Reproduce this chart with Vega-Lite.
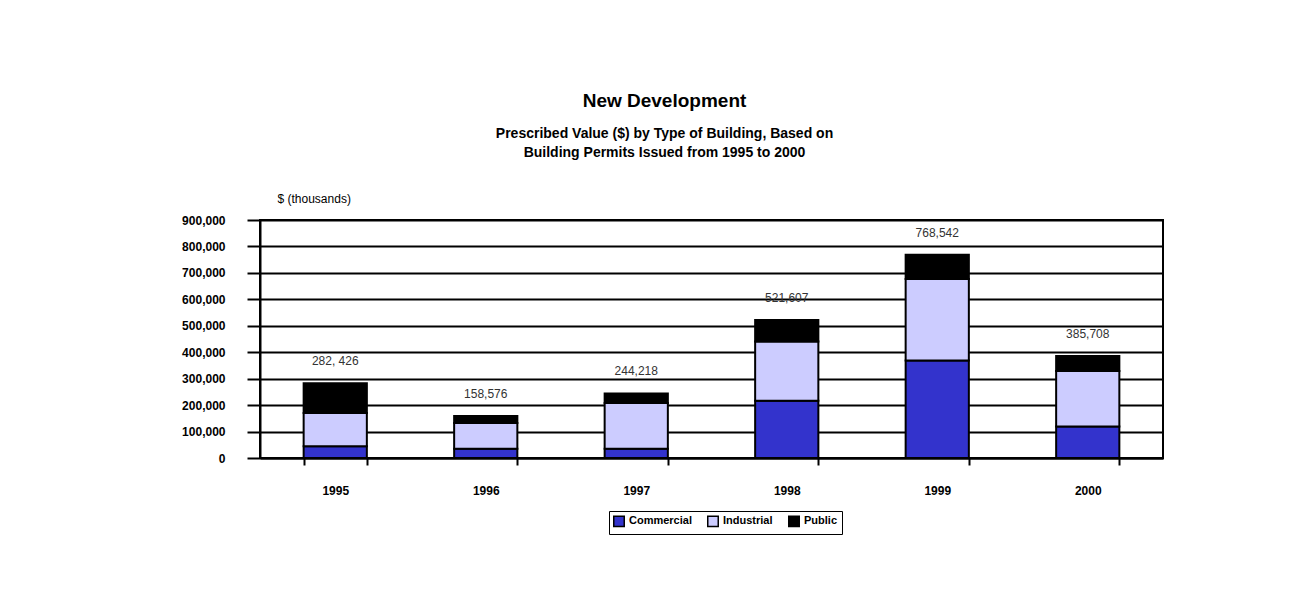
{
  "$schema": "https://vega.github.io/schema/vega-lite/v6.json",
  "width": 903,
  "height": 238,
  "autosize": {"type": "none"},
  "padding": {"left": 260, "top": 220, "right": 132, "bottom": 151},
  "background": "white",
  "config": {
    "font": "Liberation Sans",
    "view": {"stroke": "black", "strokeWidth": 2}
  },
  "title": {
    "text": "New Development",
    "subtitle": ["Prescribed Value ($) by Type of Building, Based on", "Building Permits Issued from 1995 to 2000"],
    "fontSize": 19,
    "fontWeight": "bold",
    "color": "black",
    "subtitleFontSize": 14,
    "subtitleFontWeight": "bold",
    "subtitleColor": "black",
    "subtitlePadding": 16,
    "subtitleLineHeight": 19,
    "anchor": "middle",
    "dx": -47,
    "offset": 32
  },
  "datasets": {
    "parts": [
      {"year": "1995", "type": "Commercial", "value": 44000},
      {"year": "1995", "type": "Industrial", "value": 126000},
      {"year": "1995", "type": "Public", "value": 112426},
      {"year": "1996", "type": "Commercial", "value": 35000},
      {"year": "1996", "type": "Industrial", "value": 97000},
      {"year": "1996", "type": "Public", "value": 26576},
      {"year": "1997", "type": "Commercial", "value": 35000},
      {"year": "1997", "type": "Industrial", "value": 173000},
      {"year": "1997", "type": "Public", "value": 36218},
      {"year": "1998", "type": "Commercial", "value": 216600},
      {"year": "1998", "type": "Industrial", "value": 224400},
      {"year": "1998", "type": "Public", "value": 80607},
      {"year": "1999", "type": "Commercial", "value": 369000},
      {"year": "1999", "type": "Industrial", "value": 308000},
      {"year": "1999", "type": "Public", "value": 91542},
      {"year": "2000", "type": "Commercial", "value": 119500},
      {"year": "2000", "type": "Industrial", "value": 209500},
      {"year": "2000", "type": "Public", "value": 56708}
    ],
    "totals": [
      {"year": "1995", "total": 282426, "label": "282, 426"},
      {"year": "1996", "total": 158576, "label": "158,576"},
      {"year": "1997", "total": 244218, "label": "244,218"},
      {"year": "1998", "total": 521607, "label": "521,607"},
      {"year": "1999", "total": 768542, "label": "768,542"},
      {"year": "2000", "total": 385708, "label": "385,708"}
    ]
  },
  "encoding": {
    "x": {
      "field": "year",
      "type": "nominal",
      "scale": {"paddingInner": 0.58, "paddingOuter": 0.29},
      "axis": {
        "title": null,
        "labelAngle": 0,
        "labelFontWeight": "bold",
        "labelFontSize": 12,
        "labelColor": "black",
        "labelPadding": 20,
        "tickBand": "extent",
        "tickSize": 7,
        "tickColor": "black",
        "tickWidth": 2,
        "domainColor": "black",
        "domainWidth": 2,
        "grid": false
      }
    },
    "y": {
      "type": "quantitative",
      "scale": {"domain": [0, 900000]},
      "axis": {
        "values": [0, 100000, 200000, 300000, 400000, 500000, 600000, 700000, 800000, 900000],
        "format": ",.0f",
        "title": "$ (thousands)",
        "titleAngle": 0,
        "titleX": 17,
        "titleY": -22,
        "titleAlign": "left",
        "titleBaseline": "middle",
        "titleFontWeight": "normal",
        "titleFontSize": 12,
        "titleColor": "black",
        "labelFontWeight": "bold",
        "labelFontSize": 12,
        "labelColor": "black",
        "labelPadding": 22,
        "tickSize": 13,
        "tickColor": "black",
        "tickWidth": 2,
        "domainColor": "black",
        "domainWidth": 2,
        "grid": true,
        "gridColor": "black",
        "gridWidth": 2,
        "gridOpacity": 1
      }
    }
  },
  "layer": [
    {
      "data": {"name": "parts"},
      "mark": {"type": "bar", "stroke": "black", "strokeWidth": 2},
      "encoding": {
        "y": {"field": "value", "type": "quantitative", "stack": "zero"},
        "order": {"field": "type", "sort": "ascending"},
        "color": {
          "field": "type",
          "type": "nominal",
          "scale": {"domain": ["Commercial", "Industrial", "Public"], "range": ["#3333CC", "#CCCCFF", "#000000"]},
          "legend": {
            "title": null,
            "orient": "none",
            "legendX": 349,
            "legendY": 291,
            "direction": "horizontal",
            "strokeColor": "black",
            "padding": 4,
            "symbolType": "square",
            "symbolSize": 110,
            "symbolStrokeColor": "black",
            "symbolStrokeWidth": 1.5,
            "symbolOpacity": 1,
            "labelFontWeight": "bold",
            "labelFontSize": 11,
            "labelColor": "black",
            "columnPadding": 12
          }
        }
      }
    },
    {
      "data": {"name": "totals"},
      "mark": {"type": "text", "dy": -22, "baseline": "middle", "fontSize": 12, "color": "#333333"},
      "encoding": {
        "y": {"field": "total", "type": "quantitative"},
        "text": {"field": "label", "type": "nominal"}
      }
    }
  ]
}
